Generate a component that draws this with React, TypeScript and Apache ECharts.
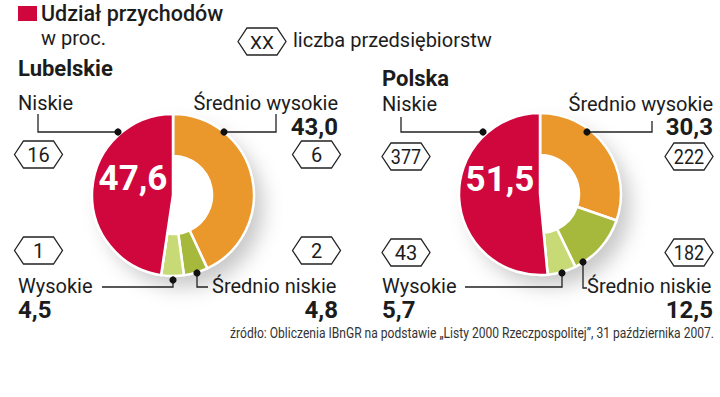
import React, { useEffect, useRef } from "react";
import * as echarts from "echarts";

const categories = ["Średnio wysokie", "Średnio niskie", "Wysokie", "Niskie"];
const lubelskieShare = [43.0, 4.8, 4.5, 47.6];
const polskaShare = [30.3, 12.5, 5.7, 51.5];
const lubelskieCount = [6, 2, 1, 16];
const polskaCount = [222, 182, 43, 377];
const sliceColors = ["#EA972C", "#A7B93D", "#C8DA76", "#D0073D"];

const FONT = "Roboto";
const INK = "#1c1c1c";

const fmt = (v: number) => v.toFixed(1).replace(".", ",");

function hexagon(cx: number, cy: number, label: string, size = 20) {
  const w = 24;
  const s = 15;
  const h = 13.5;
  return [
    {
      type: "polygon",
      shape: {
        points: [
          [cx - w, cy],
          [cx - s, cy - h],
          [cx + s, cy - h],
          [cx + w, cy],
          [cx + s, cy + h],
          [cx - s, cy + h],
        ],
      },
      style: { fill: "#fff", stroke: "#222", lineWidth: 1.3 },
    },
    {
      type: "text",
      x: cx,
      y: cy + 0.5,
      scaleX: label.length > 2 ? 0.9 : 1,
      style: {
        text: label,
        fontFamily: FONT,
        fontSize: size,
        fill: INK,
        align: "center",
        verticalAlign: "middle",
      },
    },
  ];
}

function txt(x: number, y: number, text: string, opts: any = {}) {
  return {
    type: "text",
    x,
    y,
    style: {
      text,
      fontFamily: FONT,
      fontSize: opts.size ?? 20,
      fontWeight: opts.weight ?? "normal",
      fill: opts.fill ?? INK,
      align: opts.align ?? "left",
      verticalAlign: "middle",
    },
  };
}

function leader(points: number[][], dot: number[]) {
  return [
    {
      type: "polyline",
      shape: { points },
      style: { stroke: "#222", lineWidth: 1.3, fill: "none" },
    },
    {
      type: "circle",
      shape: { cx: dot[0], cy: dot[1], r: 3.6 },
      style: { fill: "#111" },
    },
  ];
}

function pieSeries(center: number[], values: number[]) {
  const data = categories.map((name, i) => ({
    name,
    value: values[i],
    itemStyle: { color: sliceColors[i] },
  }));
  const common = {
    type: "pie",
    center,
    startAngle: 90,
    clockwise: true,
    silent: true,
    label: { show: false },
    labelLine: { show: false },
    emphasis: { disabled: true },
  };
  return [
    {
      ...common,
      radius: [0, 80],
      z: 1,
      data: [
        {
          name: "shadow",
          value: 1,
          itemStyle: {
            color: "#fff",
            shadowBlur: 20,
            shadowOffsetX: 10,
            shadowOffsetY: 12,
            shadowColor: "rgba(0,0,0,0.22)",
          },
        },
      ],
    },
    {
      ...common,
      radius: [39, 81],
      z: 2,
      itemStyle: { borderColor: "#fff", borderWidth: 2.5 },
      data,
    },
    {
      ...common,
      radius: [0, 81],
      z: 3,
      data: data.map((d, i) =>
        i === 3
          ? { ...d, itemStyle: { color: sliceColors[3], borderColor: "#fff", borderWidth: 2.5 } }
          : { ...d, itemStyle: { color: "rgba(0,0,0,0)", borderWidth: 0 } }
      ),
    },
  ];
}

export default function App() {
  const ref = useRef<HTMLDivElement>(null);
  useEffect(() => {
    document.body.style.margin = "0";
    const chart = echarts.init(ref.current!, undefined, { renderer: "svg" });

    const L = lubelskieShare;
    const P = polskaShare;

    const graphic: any[] = [
      // legend
      { type: "rect", shape: { x: 18, y: 6, width: 19, height: 15 }, style: { fill: "#D0073D" } },
      txt(41, 13, "Udział przychodów", { size: 21.5, weight: 500 }),
      txt(41, 38, "w proc.", { size: 20 }),
      ...hexagon(262, 41.5, "XX", 19),
      txt(293, 40, "liczba przedsiębiorstw", { size: 20 }),
      // Lubelskie
      txt(18, 68, "Lubelskie", { size: 22, weight: "bold" }),
      txt(18, 103, categories[3]),
      txt(338, 103, categories[0], { align: "right" }),
      txt(338, 127, fmt(L[0]), { size: 24, weight: "bold", align: "right" }),
      txt(18, 286, categories[2]),
      txt(18, 309.5, fmt(L[2]), { size: 24, weight: "bold" }),
      txt(212, 286, categories[1]),
      txt(338, 309.5, fmt(L[1]), { size: 24, weight: "bold", align: "right" }),
      txt(133, 178, fmt(L[3]), { size: 35, weight: "bold", fill: "#fff", align: "center" }),
      ...hexagon(38.5, 154.5, String(lubelskieCount[3])),
      ...hexagon(316.5, 154.5, String(lubelskieCount[0])),
      ...hexagon(38.5, 250.5, String(lubelskieCount[2])),
      ...hexagon(316.5, 250.5, String(lubelskieCount[1])),
      ...leader([[38, 114], [38, 132], [118, 132]], [118, 132]),
      ...leader([[276, 114], [276, 132], [224, 132]], [224, 132]),
      ...leader([[102, 287], [173, 287], [173, 280]], [173, 280]),
      ...leader([[197, 273], [197, 287], [208, 287]], [197, 273]),
      // Polska
      txt(382, 78, "Polska", { size: 22, weight: "bold" }),
      txt(382, 103.5, categories[3]),
      txt(713, 103.5, categories[0], { align: "right" }),
      txt(713, 127, fmt(P[0]), { size: 24, weight: "bold", align: "right" }),
      txt(382, 286, categories[2]),
      txt(382, 309.5, fmt(P[2]), { size: 24, weight: "bold" }),
      txt(587, 286, categories[1]),
      txt(713, 309.5, fmt(P[1]), { size: 24, weight: "bold", align: "right" }),
      txt(500, 179, fmt(P[3]), { size: 35, weight: "bold", fill: "#fff", align: "center" }),
      ...hexagon(406, 156.5, String(polskaCount[3])),
      ...hexagon(689, 156.5, String(polskaCount[0])),
      ...hexagon(406, 252.5, String(polskaCount[2])),
      ...hexagon(689, 252.5, String(polskaCount[1])),
      ...leader([[401, 117], [401, 132], [483, 132]], [483, 132]),
      ...leader([[652, 121], [652, 132], [587, 132]], [587, 132]),
      ...leader([[465, 287], [562, 287], [562, 273]], [562, 273]),
      ...leader([[583, 262], [583, 288], [587, 288]], [583, 262]),
      // footer
      {
        type: "text",
        x: 714,
        y: 332,
        scaleX: 0.805,
        style: {
          text: "źródło: Obliczenia IBnGR na podstawie „Listy 2000 Rzeczpospolitej”, 31 października 2007.",
          fontFamily: FONT,
          fontSize: 15,
          fontWeight: "normal",
          fill: "#333",
          align: "right",
          verticalAlign: "middle",
        },
      },
    ];

    chart.setOption({
      animation: false,
      backgroundColor: "#fff",
      series: [...pieSeries([173, 195], L), ...pieSeries([540, 194], P)],
      graphic: { elements: graphic.map((g) => ({ ...g, z: 100 })) },
    });
    return () => chart.dispose();
  }, []);
  return <div ref={ref} style={{ width: 720, height: 397 }} />;
}
